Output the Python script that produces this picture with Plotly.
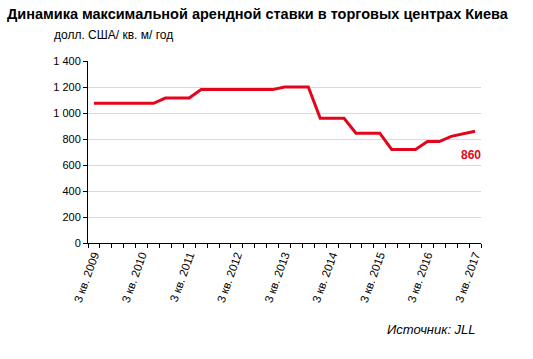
import plotly.graph_objects as go

quarters = []
for y in range(2009, 2018):
    for q in (1, 2, 3, 4):
        if (y == 2009 and q < 3) or (y == 2017 and q > 3):
            continue
        quarters.append(f"{q} кв. {y}")

rates = [1075, 1075, 1075, 1075, 1075, 1075,
         1115, 1115, 1115,
         1180, 1180, 1180, 1180, 1180, 1180, 1180,
         1200, 1200, 1200,
         960, 960, 960,
         845, 845, 845,
         720, 720, 720,
         780, 780,
         820, 840, 860]

y_ticks = [0, 200, 400, 600, 800, 1000, 1200, 1400]

xi = list(range(len(quarters)))
label_idx = [i for i, q in enumerate(quarters) if q.startswith("3 кв.")]
label_txt = [quarters[i] for i in label_idx]

FONT = "Liberation Sans, Arial, sans-serif"
RED = "#e3051b"

fig = go.Figure()
fig.add_trace(go.Scatter(x=xi, y=rates, mode="lines",
                         line=dict(color=RED, width=3), hoverinfo="skip"))

fig.add_annotation(x=xi[-1], y=rates[-1], text=f"<b>{rates[-1]}</b>", showarrow=False,
                   xanchor="center", yanchor="middle", xshift=-4, yshift=-24,
                   font=dict(family=FONT, size=12, color=RED))

fig.add_annotation(xref="paper", yref="paper", x=-0.092, y=1.143,
                   xanchor="left", yanchor="middle", showarrow=False,
                   text="долл. США/ кв. м/ год",
                   font=dict(family=FONT, size=12, color="#000"))

fig.add_annotation(xref="paper", yref="paper", x=0.992, y=-0.478,
                   xanchor="right", yanchor="middle", showarrow=False,
                   text="<i>Источник: JLL</i>",
                   font=dict(family=FONT, size=13, color="#000"))

fig.update_layout(
    width=533, height=359,
    margin=dict(l=88, r=52, t=61, b=116),
    paper_bgcolor="white", plot_bgcolor="white",
    showlegend=False,
    separators=", ",
    title=dict(text="<b>Динамика максимальной арендной ставки в торговых центрах Киева</b>",
               x=0.013, xanchor="left", y=0.962, yanchor="middle",
               font=dict(family=FONT, size=14.5, color="#000")),
    font=dict(family=FONT, size=11, color="#000"),
)

fig.update_xaxes(
    range=[-0.5, len(quarters) - 0.5],
    tickvals=label_idx, ticktext=label_txt, tickangle=-70,
    ticks="", showgrid=False, zeroline=False,
    showline=True, linecolor="#000", linewidth=1,
    minor=dict(ticks="outside", tick0=-0.5, dtick=1, ticklen=4,
               tickcolor="#000", showgrid=False),
    tickfont=dict(family=FONT, size=11.5, color="#000"),
)

fig.update_yaxes(
    range=[0, 1400], tickvals=y_ticks, tickformat=",d",
    showgrid=True, gridcolor="#d9d9d9", gridwidth=1.3,
    zeroline=False, showline=True, linecolor="#000", linewidth=1,
    ticks="outside", ticklen=4, tickcolor="#000",
    tickfont=dict(family=FONT, size=11, color="#000"),
)

fig.write_html("out.html")
